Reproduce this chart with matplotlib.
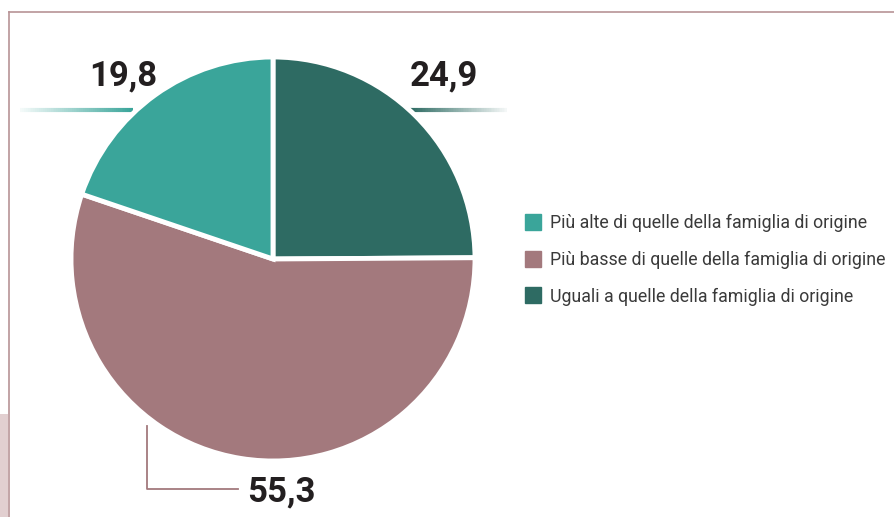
"""
Pie chart: reddito rispetto alla famiglia di origine.
"""

import numpy as np
import matplotlib
matplotlib.use('Agg')
import matplotlib.pyplot as plt
from matplotlib.collections import LineCollection
from matplotlib.patches import Rectangle
from matplotlib.lines import Line2D

plt.rcParams['font.family'] = ['Roboto', 'DejaVu Sans']

# Data (clockwise from 12 o'clock)
categories = ['Uguali a quelle della famiglia di origine',
              'Più basse di quelle della famiglia di origine',
              'Più alte di quelle della famiglia di origine']
values = [24.9, 55.3, 19.8]
value_labels = ['24,9', '55,3', '19,8']
colors = ['#2E6B63', '#A3797D', '#3AA59A']
legend_order = [2, 1, 0]

W, H = 894, 517
fig = plt.figure(figsize=(W / 100, H / 100), dpi=100)

# overlay axes in pixel coordinates
ov = fig.add_axes([0, 0, 1, 1])
ov.set_xlim(0, W)
ov.set_ylim(H, 0)
ov.axis('off')

# frame lines and pink block
ov.plot([9, W], [12, 12], color='#B89396', lw=1.2)
ov.plot([9, 9], [12, H], color='#B89396', lw=1.2)
ov.add_patch(Rectangle((0, 414), 8, H - 414, color='#E2CFD0', lw=0))

# pie
cx, cy, r = 273, 259, 202
pax = fig.add_axes([(cx - r) / W, (H - cy - r) / H, 2 * r / W, 2 * r / H])
wedges, _ = pax.pie(values, colors=colors, startangle=90, counterclock=False,
                    wedgeprops=dict(edgecolor='white', linewidth=3.5))
pax.set_xlim(-1, 1)
pax.set_ylim(-1, 1)


def fade_line(x0, x1, y, color, solid_at_right, lw=3):
    xs = np.linspace(x0, x1, 60)
    segs = [[(xs[i], y), (xs[i + 1], y)] for i in range(len(xs) - 1)]
    a = np.linspace(0.05, 1, len(segs))
    if not solid_at_right:
        a = a[::-1]
    rgba = [matplotlib.colors.to_rgba(color, al) for al in a]
    ov.add_collection(LineCollection(segs, colors=rgba, linewidths=lw, capstyle='butt'))


lab_kw = dict(fontsize=25, fontweight='bold', color='#231F20', va='center')
ov.text(123, 76, value_labels[2], ha='center', **lab_kw)
fade_line(20, 133, 109.5, colors[2], True)
ov.text(444, 76, value_labels[0], ha='center', **lab_kw)
fade_line(410, 507, 109.5, colors[0], False)
ov.plot([147, 147, 238], [426, 489, 489], color='#A3797D', lw=1.3)
ov.text(247, 492, value_labels[1], ha='left', **lab_kw)

handles = [Line2D([], [], marker='s', linestyle='', markersize=11.5,
                  color=colors[i]) for i in legend_order]
fig.legend(handles, [categories[i] for i in legend_order],
           loc='upper left', bbox_to_anchor=(524 / W, 1 - 214 / H), frameon=False,
           fontsize=12.8, labelcolor='#3A3A3A', handlelength=1.0,
           handletextpad=0.45, labelspacing=1.05, borderaxespad=0, borderpad=0)

plt.savefig('out.png', dpi=100)
plt.close()
